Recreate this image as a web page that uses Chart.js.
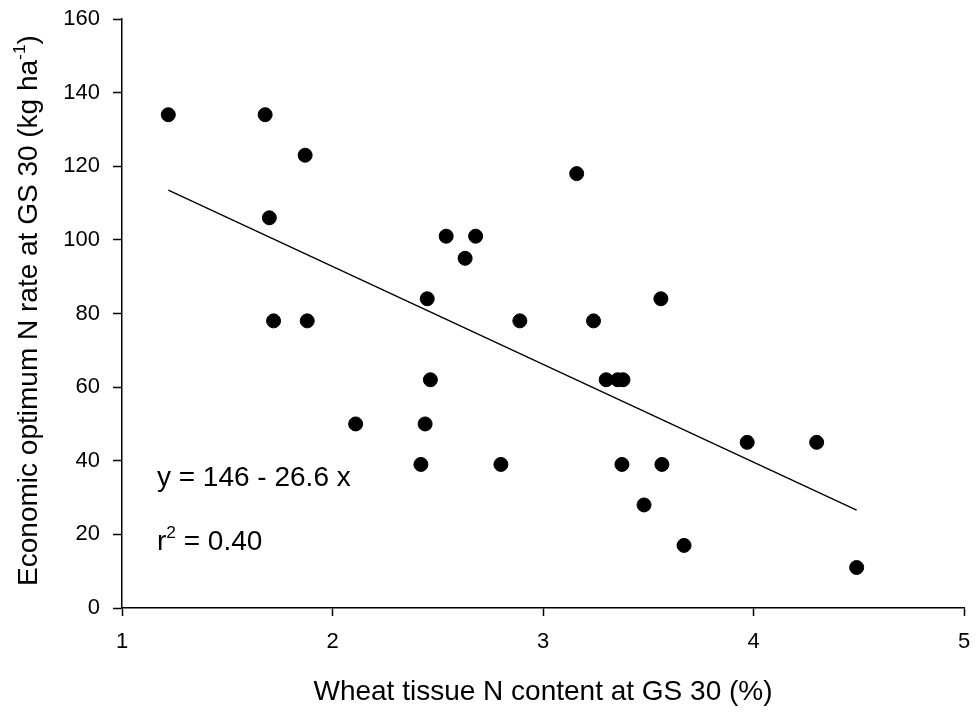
<!DOCTYPE html>
<html lang="en">
<head>
    <meta charset="UTF-8">
    <title>Economic optimum N rate vs wheat tissue N</title>
    <script src="https://cdn.jsdelivr.net/npm/chart.js"></script>
    <style>
        html, body {
            margin: 0;
            padding: 0;
            background: #fff;
        }
        .wrap {
            width: 976px;
            height: 713px;
        }
    </style>
</head>
<body>
    <div class="wrap">
        <canvas id="myChart"></canvas>
    </div>
    <script>
        // tissue N (%) and economic optimum N rate (kg/ha)
        const tissueN = [1.22, 1.68, 1.87, 1.70, 1.72, 1.88, 2.11, 2.42, 2.44, 2.45,
                         2.465, 2.54, 2.63, 2.68, 2.80, 2.89, 3.16, 3.24, 3.30, 3.355,
                         3.38, 3.375, 3.48, 3.56, 3.565, 3.67, 3.97, 4.30, 4.49];
        const optimumN = [134, 134, 123, 106, 78, 78, 50, 39, 50, 84,
                          62, 101, 95, 101, 39, 78, 118, 78, 62, 62,
                          62, 39, 28, 84, 39, 17, 45, 45, 11];

        // fitted line end points
        const fitX = [1.22, 4.49];
        const fitY = [113.5, 26.6];

        const xTicks = [1, 2, 3, 4, 5];
        const yTicks = [0, 20, 40, 60, 80, 100, 120, 140, 160];

        const FONT = "'Liberation Sans', Arial, sans-serif";

        const points = tissueN.map((v, i) => ({ x: v, y: optimumN[i] }));
        const fitLine = fitX.map((v, i) => ({ x: v, y: fitY[i] }));

        // draws text pieces, some of them as superscripts, starting at (x, y) baseline
        function drawRuns(ctx, runs, x, y, size, align) {
            let total = 0;
            runs.forEach(r => {
                ctx.font = (r.sup ? size * 0.62 : size) + 'px ' + FONT;
                total += ctx.measureText(r.t).width;
            });
            let cx = align === 'center' ? x - total / 2 : x;
            runs.forEach(r => {
                const s = r.sup ? size * 0.62 : size;
                ctx.font = s + 'px ' + FONT;
                ctx.fillText(r.t, cx, r.sup ? y - size * 0.42 : y);
                cx += ctx.measureText(r.t).width;
            });
        }

        const textPlugin = {
            id: 'textPlugin',
            afterDraw(chart) {
                const ctx = chart.ctx;
                const xs = chart.scales.x, ys = chart.scales.y;
                const area = chart.chartArea;
                ctx.save();
                ctx.fillStyle = '#000';
                ctx.textBaseline = 'alphabetic';
                ctx.textAlign = 'left';

                // y axis title
                ctx.save();
                ctx.translate(37, (area.top + area.bottom) / 2 - 3);
                ctx.rotate(-Math.PI / 2);
                drawRuns(ctx, [
                    { t: 'Economic optimum N rate at GS 30 (kg ha' },
                    { t: '-1', sup: true },
                    { t: ')' }
                ], 0, 0, 28, 'center');
                ctx.restore();

                // regression equation
                drawRuns(ctx, [{ t: 'y = 146 - 26.6 x' }],
                    xs.getPixelForValue(1.166), ys.getPixelForValue(33.1), 28, 'left');
                drawRuns(ctx, [{ t: 'r' }, { t: '2', sup: true }, { t: ' = 0.40' }],
                    xs.getPixelForValue(1.166), ys.getPixelForValue(15.7), 28, 'left');
                ctx.restore();
            }
        };

        const ctx = document.getElementById('myChart').getContext('2d');
        const myChart = new Chart(ctx, {
            type: 'scatter',
            data: {
                datasets: [{
                    label: 'Observed',
                    data: points,
                    backgroundColor: '#000',
                    borderColor: '#000',
                    borderWidth: 1,
                    pointRadius: 7,
                    pointHoverRadius: 7
                }, {
                    label: 'Fit',
                    type: 'line',
                    data: fitLine,
                    borderColor: '#000',
                    borderWidth: 1.4,
                    pointRadius: 0,
                    fill: false
                }]
            },
            options: {
                responsive: true,
                maintainAspectRatio: false,
                animation: false,
                layout: {
                    padding: { top: 19, right: 12, left: 0, bottom: 0 }
                },
                plugins: {
                    legend: { display: false },
                    tooltip: { enabled: false }
                },
                scales: {
                    x: {
                        type: 'linear',
                        min: 1,
                        max: 5,
                        afterBuildTicks(scale) {
                            scale.ticks = xTicks.map(v => ({ value: v }));
                        },
                        afterFit(scale) {
                            scale.height = 105;
                            // layout padding alone sets the plot edges
                            scale.paddingLeft = 0;
                            scale.paddingRight = 0;
                        },
                        ticks: {
                            color: '#000',
                            padding: 13,
                            font: { family: FONT, size: 22 }
                        },
                        grid: {
                            drawOnChartArea: false,
                            tickLength: 8,
                            tickColor: '#000',
                            tickWidth: 1.5
                        },
                        border: { color: '#000', width: 1.5 },
                        title: {
                            display: true,
                            text: 'Wheat tissue N content at GS 30 (%)',
                            color: '#000',
                            font: { family: FONT, size: 28 },
                            padding: { top: 0, bottom: 4 }
                        }
                    },
                    y: {
                        min: 0,
                        max: 160,
                        afterBuildTicks(scale) {
                            scale.ticks = yTicks.map(v => ({ value: v }));
                        },
                        afterFit(scale) {
                            scale.width = 122;
                            scale.paddingTop = 0;
                            scale.paddingBottom = 0;
                        },
                        ticks: {
                            color: '#000',
                            padding: 13,
                            font: { family: FONT, size: 22 }
                        },
                        grid: {
                            drawOnChartArea: false,
                            tickLength: 9,
                            tickColor: '#000',
                            tickWidth: 1.5
                        },
                        border: { color: '#000', width: 1.5 }
                    }
                }
            },
            plugins: [textPlugin]
        });
    </script>
</body>
</html>
